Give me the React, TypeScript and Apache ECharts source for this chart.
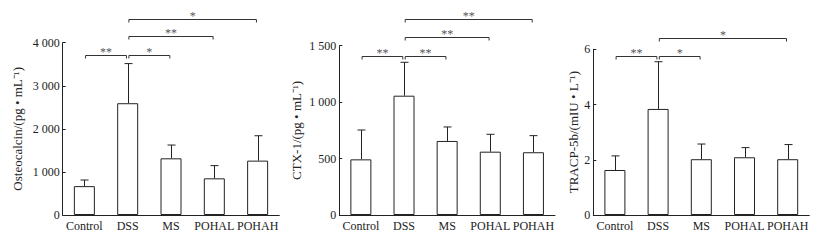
import React, { useEffect, useRef } from "react";
import * as echarts from "echarts";

const categories = ["Control", "DSS", "MS", "POHAL", "POHAH"];

const osteocalcinMean = [670, 2595, 1316, 851, 1262];
const osteocalcinUpper = [812, 3515, 1624, 1146, 1840];
const ctxMean = [493, 1057, 656, 561, 556];
const ctxUpper = [753, 1353, 780, 715, 703];
const tracpMean = [1.63, 3.84, 2.02, 2.09, 2.02];
const tracpUpper = [2.14, 5.55, 2.57, 2.44, 2.55];

// brackets: [fromIndex, toIndex, level (axis units)]
const osteoBrackets = [[0, 1, 3714], [1, 2, 3714], [1, 3, 4155], [1, 4, 4543]];
const osteoStars = ["**", "*", "**", "*"];
const ctxBrackets = [[0, 1, 1411], [1, 2, 1411], [1, 3, 1580], [1, 4, 1734]];
const ctxStars = ["**", "**", "**", "**"];
const tracpBrackets = [[0, 1, 5.77], [1, 2, 5.77], [1, 4, 6.41]];
const tracpStars = ["**", "*", "*"];

const yNames = ["Osteocalcin/(pg • mL⁻¹)", "CTX-1/(pg • mL⁻¹)", "TRACP-5b/(mIU • L⁻¹)"];
const yMax = [4000, 1500, 6];
const yInterval = [1000, 500, 2];

const FONT = "Liberation Serif, Times New Roman, serif";
const INK = "#222";
const STAR = "#555";

function fmt(v: number) {
  if (v >= 1000) {
    return Math.floor(v / 1000) + " " + String(v % 1000).padStart(3, "0");
  }
  return String(v);
}

export default function App() {
  const ref = useRef<HTMLDivElement>(null);
  useEffect(() => {
    if (!ref.current) return;
    const chart = echarts.init(ref.current, null, { renderer: "svg" });
    const grids = [
      { left: 62.7, top: 42.7, width: 216.6, height: 172.3 },
      { left: 339.3, top: 45.7, width: 215.7, height: 169.3 },
      { left: 593.3, top: 49.3, width: 216, height: 165.7 },
    ];
    const nameGaps = [39, 36, 13];
    const means = [osteocalcinMean, ctxMean, tracpMean];
    const uppers = [osteocalcinUpper, ctxUpper, tracpUpper];
    const brackets = [osteoBrackets, ctxBrackets, tracpBrackets];
    const stars = [osteoStars, ctxStars, tracpStars];

    const series: any[] = [];
    for (let p = 0; p < 3; p++) {
      series.push({
        type: "bar",
        xAxisIndex: p,
        yAxisIndex: p,
        data: means[p],
        barWidth: 21,
        itemStyle: { color: "#fff", borderColor: INK, borderWidth: 1 },
      });
      series.push({
        type: "custom",
        xAxisIndex: p,
        yAxisIndex: p,
        clip: false,
        itemStyle: { color: INK },
        data: means[p].map((m, i) => [i, m, uppers[p][i]]),
        renderItem: (params: any, api: any) => {
          const i = api.value(0);
          const base = api.coord([i, api.value(1)]);
          const top = api.coord([i, api.value(2)]);
          const x = Math.round(top[0]) + 0.5;
          return {
            type: "group",
            children: [
              { type: "line", shape: { x1: x, y1: base[1], x2: x, y2: top[1] }, style: { stroke: INK, lineWidth: 1 } },
              { type: "line", shape: { x1: x - 4, y1: top[1], x2: x + 4, y2: top[1] }, style: { stroke: INK, lineWidth: 1 } },
            ],
          };
        },
      });
      const st = stars[p];
      series.push({
        type: "custom",
        xAxisIndex: p,
        yAxisIndex: p,
        clip: false,
        itemStyle: { color: STAR },
        data: brackets[p],
        renderItem: (params: any, api: any) => {
          const a = api.coord([api.value(0), api.value(2)]);
          const b = api.coord([api.value(1), api.value(2)]);
          const x1 = a[0] + 1.2;
          const x2 = b[0] - 1.2;
          const y = Math.round(a[1]) + 0.5;
          return {
            type: "group",
            children: [
              { type: "line", shape: { x1, y1: y, x2, y2: y }, style: { stroke: "#333", lineWidth: 1 } },
              { type: "line", shape: { x1, y1: y, x2: x1, y2: y + 3 }, style: { stroke: "#333", lineWidth: 1 } },
              { type: "line", shape: { x1: x2, y1: y, x2, y2: y + 3 }, style: { stroke: "#333", lineWidth: 1 } },
              {
                type: "text",
                x: (x1 + x2) / 2,
                y: y + 2,
                style: {
                  text: st[params.dataIndex],
                  align: "center",
                  verticalAlign: "bottom",
                  fontSize: 12,
                  fontFamily: FONT,
                  fill: STAR,
                },
              },
            ],
          };
        },
      });
    }

    chart.setOption({
      animation: false,
      grid: grids,
      xAxis: grids.map((_, p) => ({
        type: "category",
        gridIndex: p,
        data: categories,
        axisTick: { show: false },
        axisLine: { lineStyle: { color: INK, width: 1 } },
        axisLabel: { color: INK, fontFamily: FONT, fontSize: 12, margin: 5, interval: 0 },
      })),
      yAxis: grids.map((_, p) => ({
        type: "value",
        gridIndex: p,
        min: 0,
        max: yMax[p],
        interval: yInterval[p],
        splitLine: { show: false },
        axisLine: { show: true, lineStyle: { color: INK, width: 1 } },
        axisTick: { show: true, inside: true, length: 3, lineStyle: { color: INK } },
        axisLabel: { color: INK, fontFamily: FONT, fontSize: 12, margin: 3, formatter: fmt },
        name: yNames[p],
        nameLocation: "middle",
        nameGap: nameGaps[p],
        nameRotate: 90,
        nameTextStyle: { color: INK, fontFamily: FONT, fontSize: 13 },
      })),
      series,
    });
    return () => chart.dispose();
  }, []);
  return (
    <div
      ref={ref}
      style={{ position: "fixed", left: 0, top: 0, width: 826, height: 240, background: "#fff" }}
    />
  );
}
